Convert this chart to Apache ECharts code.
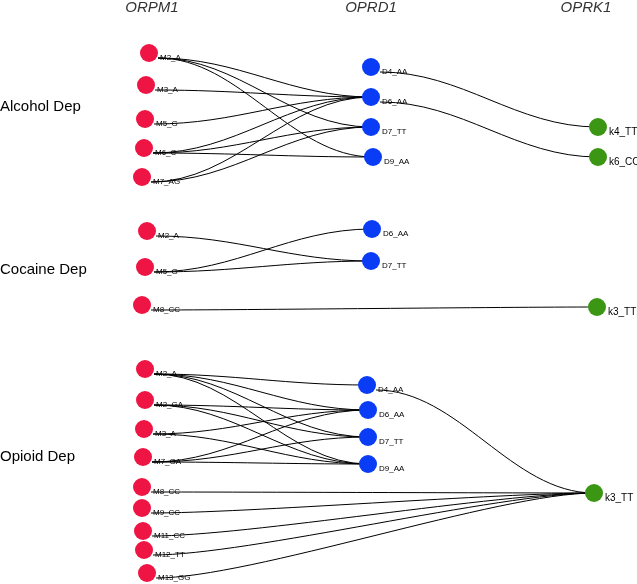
<!DOCTYPE html>
<html><head><meta charset="utf-8">
<script src="https://cdn.jsdelivr.net/npm/echarts@6/dist/echarts.min.js"></script>
<style>html,body{margin:0;padding:0;background:#fff}#c{width:637px;height:584px}</style>
</head><body><div id="c"></div>
<script>
// Column (gene) titles and row (phenotype) titles
const genes = ['ORPM1', 'OPRD1', 'OPRK1'];
const groups = ['Alcohol Dep', 'Cocaine Dep', 'Opioid Dep'];

// ORPM1 nodes
const orpm1Group = ['A','A','A','A','A','C','C','C','O','O','O','O','O','O','O','O','O'];
const orpm1Names = ['M2_A','M3_A','M5_G','M6_C','M7_AG','M2_A','M5_G','M8_CC','M2_A','M2_GA','M3_A','M7_GA','M8_CC','M9_CC','M11_CC','M12_TT','M13_GG'];
const orpm1X = [149,146,145,144,142,147,145,142,145,145,144,143,142,142,143,144,147];
const orpm1Y = [53,85,119,148,177,231,267,305,369,400,429,457,487,508,531,550,573];

// OPRD1 nodes
const oprd1Group = ['A','A','A','A','C','C','O','O','O','O'];
const oprd1Names = ['D4_AA','D6_AA','D7_TT','D9_AA','D6_AA','D7_TT','D4_AA','D6_AA','D7_TT','D9_AA'];
const oprd1X = [371,371,371,373,372,371,367,368,368,368];
const oprd1Y = [67,97,127,157,229,261,385,410,437,464];

// OPRK1 nodes
const oprk1Group = ['A','A','C','O'];
const oprk1Names = ['k4_TT','k6_CC','k3_TT','k3_TT'];
const oprk1X = [598,598,597,594];
const oprk1Y = [127,157,307,493];

// Interactions: [group, from, to]
const edges = [
  ['A','M2_A','D6_AA'],['A','M2_A','D7_TT'],['A','M2_A','D9_AA'],
  ['A','M3_A','D6_AA'],['A','M5_G','D6_AA'],
  ['A','M6_C','D6_AA'],['A','M6_C','D7_TT'],['A','M6_C','D9_AA'],
  ['A','M7_AG','D6_AA'],['A','M7_AG','D7_TT'],
  ['A','D4_AA','k4_TT'],['A','D6_AA','k6_CC'],
  ['C','M2_A','D7_TT'],['C','M5_G','D6_AA'],['C','M5_G','D7_TT'],['C','M8_CC','k3_TT'],
  ['O','M2_A','D4_AA'],['O','M2_A','D6_AA'],['O','M2_A','D7_TT'],['O','M2_A','D9_AA'],
  ['O','M2_GA','D6_AA'],['O','M2_GA','D7_TT'],['O','M2_GA','D9_AA'],
  ['O','M3_A','D6_AA'],['O','M3_A','D9_AA'],
  ['O','M7_GA','D6_AA'],['O','M7_GA','D7_TT'],['O','M7_GA','D9_AA'],
  ['O','D4_AA','k3_TT'],
  ['O','M8_CC','k3_TT'],['O','M9_CC','k3_TT'],['O','M11_CC','k3_TT'],['O','M12_TT','k3_TT'],['O','M13_GG','k3_TT']
];

// ---- build ----
const nodeIndex = {};
function addNodes(grp, names, xs, ys) {
  return names.map((n, i) => {
    nodeIndex[grp[i] + ':' + n] = [xs[i], ys[i]];
    return [xs[i], ys[i], n];
  });
}
const mData = addNodes(orpm1Group, orpm1Names, orpm1X, orpm1Y);
const dData = addNodes(oprd1Group, oprd1Names, oprd1X, oprd1Y);
const kData = addNodes(oprk1Group, oprk1Names, oprk1X, oprk1Y);
const edgeData = edges.map(e => {
  const a = nodeIndex[e[0] + ':' + e[1]], b = nodeIndex[e[0] + ':' + e[2]];
  return [a[0], a[1], b[0], b[1]];
});

const font = 'Liberation Sans';
function nodeSeries(data, color, fs) {
  return {
    type: 'scatter', data: data, symbol: 'circle', symbolSize: 18, z: 3,
    itemStyle: { color: color, opacity: 1 },
    label: { show: true, position: 'right', distance: 2, offset: [0, 5],
      formatter: p => p.data[2], fontSize: fs, fontFamily: font, color: '#000' },
    emphasis: { disabled: true }, silent: true
  };
}

const chart = echarts.init(document.getElementById('c'), null, { renderer: 'canvas' });
const headerX = [152, 371, 586];
const groupY = [107, 270, 457];
chart.setOption({
  animation: false,
  backgroundColor: '#fff',
  grid: { left: 0, right: 0, top: 0, bottom: 0 },
  xAxis: { type: 'value', min: 0, max: 637, show: false },
  yAxis: { type: 'value', min: 0, max: 584, inverse: true, show: false },
  graphic: [].concat(
    genes.map((g, i) => ({ type: 'text', x: headerX[i], y: 8,
      style: { text: g, font: 'italic 15px ' + font, fill: '#333', align: 'center', verticalAlign: 'middle' } })),
    groups.map((g, i) => ({ type: 'text', x: 0, y: groupY[i],
      style: { text: g, font: '15px ' + font, fill: '#000', align: 'left', verticalAlign: 'middle' } }))
  ),
  series: [
    {
      type: 'custom', data: edgeData, z: 1, clip: false, silent: true,
      encode: { x: [0, 2], y: [1, 3] },
      renderItem: function (params, api) {
        const p1 = api.coord([api.value(0), api.value(1)]);
        const p2 = api.coord([api.value(2), api.value(3)]);
        const x1 = p1[0] + 9, y1 = p1[1] + 5;
        const x2 = p2[0], y2 = p2[1];
        const off = Math.min((x2 - x1) * 0.38, 95);
        return {
          type: 'bezierCurve',
          shape: { x1: x1, y1: y1, x2: x2, y2: y2, cpx1: x1 + off, cpy1: y1, cpx2: x2 - off, cpy2: y2 },
          style: { stroke: '#000', lineWidth: 1, fill: null }
        };
      }
    },
    nodeSeries(mData, '#ee1443', 8),
    nodeSeries(dData, '#0a3cf5', 8),
    nodeSeries(kData, '#3b9614', 10)
  ]
});
</script>
</body></html>
